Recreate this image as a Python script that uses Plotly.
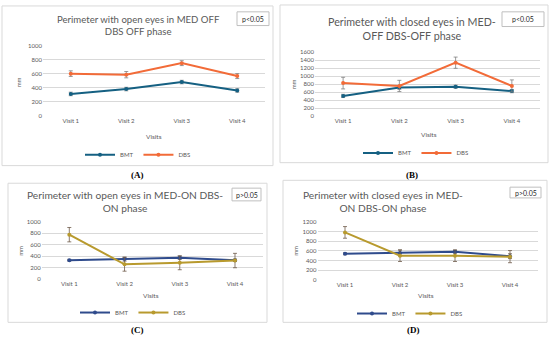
import plotly.graph_objects as go

visits = ["Visit 1", "Visit 2", "Visit 3", "Visit 4"]

a_bmt = [310, 380, 480, 360]
a_bmt_err = [25, 25, 25, 25]
a_dbs = [600, 585, 750, 565]
a_dbs_err = [40, 45, 35, 35]

b_bmt = [510, 720, 740, 630]
b_bmt_err = [40, 45, 40, 40]
b_dbs = [830, 760, 1340, 760]
b_dbs_err = [145, 140, 140, 150]

c_bmt = [330, 350, 375, 330]
c_bmt_err = [15, 35, 30, 20]
c_dbs = [775, 260, 285, 325]
c_dbs_err = [125, 120, 120, 125]

d_bmt = [540, 555, 580, 490]
d_bmt_err = [20, 60, 30, 50]
d_dbs = [980, 500, 500, 480]
d_dbs_err = [120, 120, 120, 125]

titles = [
    "Perimeter with open eyes in MED OFF<br>DBS OFF phase",
    "Perimeter with closed eyes in MED-<br>OFF DBS-OFF phase",
    "Perimeter with open eyes in MED-ON DBS-<br>ON phase",
    "Perimeter with closed eyes in MED-<br>ON DBS-ON phase",
]
pvals = ["p<0.05", "p<0.05", "p>0.05", "p>0.05"]
panel_labels = ["(A)", "(B)", "(C)", "(D)"]
yranges = [1000, 1600, 1000, 1200]

W, H = 550, 341
def fx(p): return p / W
def fy(p): return 1 - p / H

FONT = "Lato, Open Sans, sans-serif"
GRAY = "#595959"

panels = [
    dict(bmt=a_bmt, bmte=a_bmt_err, dbs=a_dbs, dbse=a_dbs_err,
         cb="#156082", cd="#F26B38", ec="#808080",
         px=(43, 265), py=(42.5, 114), box=(2, 2, 273, 165),
         title=(138, 21.5, 9.6), pbox=(237, 8, 269, 22), lab=(137, 175),
         leg=(138, 154), mm=(18, 80), vis=(154, 135)),
    dict(bmt=b_bmt, bmte=b_bmt_err, dbs=b_dbs, dbse=b_dbs_err,
         cb="#156082", cd="#F26B38", ec="#808080",
         px=(315, 540), py=(49.3, 114.7), box=(280, 1, 548, 162),
         title=(412, 25.5, 10.7), pbox=(502, 8, 544, 23), lab=(412, 175),
         leg=(416, 152), mm=(293, 82), vis=(429, 133)),
    dict(bmt=c_bmt, bmte=c_bmt_err, dbs=c_dbs, dbse=c_dbs_err,
         cb="#2F4B8C", cd="#B89A2E", ec="#6E5A4A",
         px=(41.7, 262.6), py=(222.3, 281), box=(8, 183, 267, 325),
         title=(125, 202, 10.2), pbox=(232, 188, 261, 201), lab=(137, 333),
         leg=(133, 315), mm=(21, 252), vis=(151, 298)),
    dict(bmt=d_bmt, bmte=d_bmt_err, dbs=d_dbs, dbse=d_dbs_err,
         cb="#2F4B8C", cd="#B89A2E", ec="#6E5A4A",
         px=(317.5, 537.5), py=(222.3, 281.7), box=(283, 180, 547, 325),
         title=(383, 201.5, 10.2), pbox=(510, 187, 541, 198), lab=(413, 333),
         leg=(410, 316), mm=(296, 252), vis=(426, 298)),
]

fig = go.Figure()
shapes, annotations = [], []
layout = dict(width=W, height=H, autosize=False,
              margin=dict(l=0, r=0, t=0, b=0),
              paper_bgcolor="white", plot_bgcolor="white",
              font=dict(family=FONT, color=GRAY))

for i, p in enumerate(panels):
    n = "" if i == 0 else str(i + 1)
    xa, ya = "x" + n, "y" + n
    legname = "legend" if i == 0 else "legend" + str(i + 1)
    for name, vals, errs, col in (("BMT", p["bmt"], p["bmte"], p["cb"]),
                                  ("DBS", p["dbs"], p["dbse"], p["cd"])):
        fig.add_trace(go.Scatter(
            x=visits, y=vals, name=name, mode="lines+markers",
            line=dict(color=col, width=2), marker=dict(color=col, size=4),
            error_y=dict(type="data", array=errs, color=p["ec"],
                         thickness=0.8, width=2),
            xaxis=xa, yaxis=ya, legend=legname))
    layout["xaxis" + n] = dict(
        domain=[fx(p["px"][0]), fx(p["px"][1])], anchor=ya,
        range=[-0.5, 3.5], showgrid=False, showline=False, zeroline=False,
        ticks="", tickfont=dict(size=6, color=GRAY))
    layout["yaxis" + n] = dict(
        domain=[fy(p["py"][1]), fy(p["py"][0])], anchor=xa,
        range=[0, yranges[i]], dtick=200, showgrid=True, gridcolor="#D9D9D9",
        gridwidth=1, zeroline=False, showline=False, ticks="",
        tickfont=dict(size=6, color=GRAY))
    layout[legname] = dict(
        x=fx(p["leg"][0]), y=fy(p["leg"][1]), xanchor="center", yanchor="middle",
        orientation="h", font=dict(size=6, color=GRAY), itemwidth=30,
        bgcolor="rgba(0,0,0,0)", tracegroupgap=0)
    b = p["box"]
    shapes.append(dict(type="rect", xref="paper", yref="paper",
                       x0=fx(b[0]), x1=fx(b[2]), y0=fy(b[3]), y1=fy(b[1]),
                       line=dict(color="#D9D9D9", width=1)))
    pb = p["pbox"]
    shapes.append(dict(type="rect", xref="paper", yref="paper",
                       x0=fx(pb[0]), x1=fx(pb[2]), y0=fy(pb[3]), y1=fy(pb[1]),
                       line=dict(color="#BFBFBF", width=1), fillcolor="white"))
    annotations.append(dict(text=pvals[i], xref="paper", yref="paper",
                            x=fx((pb[0] + pb[2]) / 2), y=fy((pb[1] + pb[3]) / 2),
                            showarrow=False, xanchor="center", yanchor="middle",
                            font=dict(size=7, color="#262626")))
    t = p["title"]
    annotations.append(dict(text=titles[i], xref="paper", yref="paper",
                            x=fx(t[0]), y=fy(t[1]), showarrow=False,
                            xanchor="center", yanchor="middle", align="center",
                            font=dict(size=t[2], color=GRAY)))
    annotations.append(dict(text="<b>" + panel_labels[i] + "</b>", xref="paper",
                            yref="paper", x=fx(p["lab"][0]), y=fy(p["lab"][1]),
                            showarrow=False, xanchor="center", yanchor="middle",
                            font=dict(size=9, color="black",
                                      family="Liberation Serif, serif")))
    annotations.append(dict(text="mm", xref="paper", yref="paper",
                            x=fx(p["mm"][0]), y=fy(p["mm"][1]), textangle=-90,
                            showarrow=False, xanchor="center", yanchor="middle",
                            font=dict(size=6, color=GRAY)))
    annotations.append(dict(text="Visits", xref="paper", yref="paper",
                            x=fx(p["vis"][0]), y=fy(p["vis"][1]),
                            showarrow=False, xanchor="center", yanchor="middle",
                            font=dict(size=6.5, color=GRAY)))

layout["shapes"] = shapes
layout["annotations"] = annotations
fig.update_layout(**layout)
fig.write_html("out.html", config={"displayModeBar": False},
               post_script="document.body.style.margin='0';document.body.style.overflow='hidden';")
